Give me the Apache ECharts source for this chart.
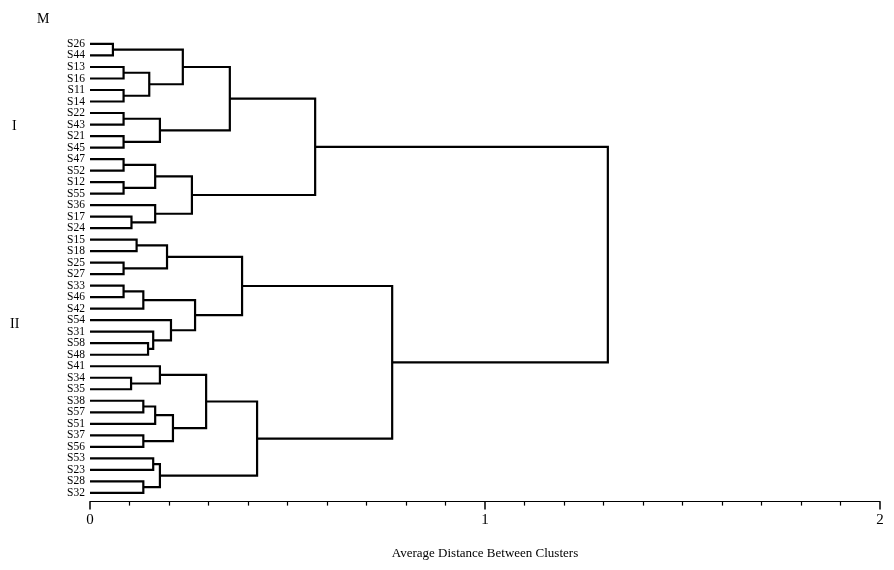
<!DOCTYPE html>
<html><head><meta charset="utf-8">
<script src="https://cdn.jsdelivr.net/npm/echarts@6/dist/echarts.min.js"></script>
<style>html,body{margin:0;padding:0;background:#fff}#c{width:894px;height:570px}</style>
</head><body><div id="c"></div>
<script>
// Leaf labels in display order (top to bottom)
const leaves = ['S26','S44','S13','S16','S11','S14','S22','S43','S21','S45',
  'S47','S52','S12','S55','S36','S17','S24','S15','S18','S25',
  'S27','S33','S46','S42','S54','S31','S58','S48','S41','S34',
  'S35','S38','S57','S51','S37','S56','S53','S23','S28','S32'];
// Merges: [childA, childB, distance]; ids < 40 are leaves, id 40+k is merge k
const mergeA = [0,2,4,41,40,6,8,45,44,10,12,49,15,14,51,48,17,19,56,21,59,26,25,24,60,58,29,28,31,68,34,69,67,36,38,73,72,65,55];
const mergeB = [1,3,5,42,43,7,9,46,47,11,13,50,16,52,53,54,18,20,57,22,23,27,61,62,63,64,30,66,32,33,35,70,71,37,39,74,75,76,77];
const mergeH = [0.058,0.085,0.085,0.15,0.235,0.085,0.085,0.177,0.354,0.085,0.085,0.165,0.105,0.165,0.258,0.57,
  0.118,0.085,0.195,0.085,0.135,0.147,0.16,0.205,0.266,0.385,0.104,0.177,0.135,0.165,0.135,0.21,0.294,0.16,0.135,0.177,0.423,0.765,1.311];
const xTicks = [0, 1, 2];

const n = leaves.length;
const nodeH = [], nodeY = [];
for (let i = 0; i < n; i++) { nodeH[i] = 0; nodeY[i] = i; }
const links = [];
for (let k = 0; k < mergeA.length; k++) {
  const a = mergeA[k], b = mergeB[k], h = mergeH[k];
  links.push([nodeH[a], nodeY[a], nodeH[b], nodeY[b], h]);
  nodeH[n + k] = h;
  nodeY[n + k] = (nodeY[a] + nodeY[b]) / 2;
}

const chart = echarts.init(document.getElementById('c'));
const serif = 'Liberation Serif, DejaVu Serif, serif';
chart.setOption({
  animation: false,
  backgroundColor: '#fff',
  grid: { left: 90, right: 14, top: 38.2, height: 460.4 },
  xAxis: {
    type: 'value', min: 0, max: 2, interval: 1, offset: 3, position: 'bottom',
    axisLine: { onZero: false, lineStyle: { color: '#000', width: 1.2 } },
    axisTick: { length: 8, lineStyle: { color: '#000', width: 1.5 } },
    minorTick: { show: true, splitNumber: 10, length: 4, lineStyle: { color: '#000', width: 1.2 } },
    splitLine: { show: false },
    axisLabel: { color: '#000', fontFamily: serif, fontSize: 15, margin: 11,
      formatter: v => xTicks.indexOf(v) >= 0 ? String(v) : '' },
    name: 'Average Distance Between Clusters', nameLocation: 'middle', nameGap: 45,
    nameTextStyle: { color: '#000', fontFamily: serif, fontSize: 13 }
  },
  yAxis: [{
    type: 'category', data: leaves, inverse: true,
    axisLine: { show: false }, axisTick: { show: false }, splitLine: { show: false },
    axisLabel: { color: '#000', fontFamily: serif, fontSize: 11.5, margin: 5, interval: 0 }
  }, {
    type: 'value', min: -0.5, max: n - 0.5, inverse: true, show: false
  }],
  graphic: [
    { type: 'text', left: 37, top: 12, style: { text: 'M', font: '14px ' + serif, fill: '#000' } },
    { type: 'text', left: 12, top: 119, style: { text: 'I', font: '14px ' + serif, fill: '#000' } },
    { type: 'text', left: 10, top: 317, style: { text: 'II', font: '14px ' + serif, fill: '#000' } }
  ],
  series: [{
    type: 'custom', yAxisIndex: 1, data: links, silent: true,
    renderItem: function (params, api) {
      const ha = api.value(0), ya = api.value(1), hb = api.value(2), yb = api.value(3), h = api.value(4);
      const p1 = api.coord([ha, ya]), p2 = api.coord([h, ya]), p3 = api.coord([h, yb]), p4 = api.coord([hb, yb]);
      return {
        type: 'polyline',
        shape: { points: [p1, p2, p3, p4] },
        style: { stroke: '#000', lineWidth: 2.2, fill: null }
      };
    }
  }]
});
</script></body></html>
